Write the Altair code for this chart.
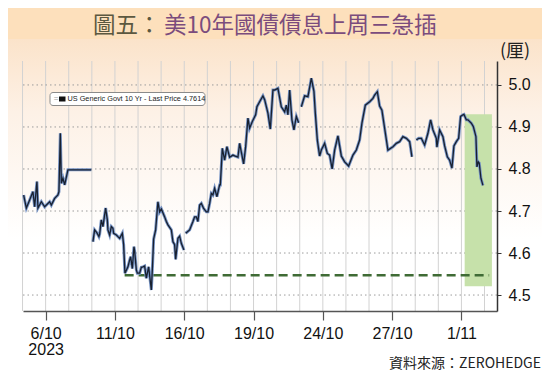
import altair as alt
import pandas as pd

# ---------------- data ----------------
# x = trading-day index (0 = 6/10/2023, 3 = 11/10, ..., 18 = 1/11/2023); y = yield (%)
seg_a_day = [-0.952, -0.835, -0.693, -0.550, -0.476, -0.377, -0.333, -0.186, -0.043, 0.173,
             0.247, 0.390, 0.532, 0.576, 0.636, 0.680, 0.749, 0.823, 0.965, 1.978]
seg_a_yld = [4.738, 4.707, 4.726, 4.746, 4.710, 4.770, 4.707, 4.722, 4.710, 4.722,
             4.714, 4.730, 4.738, 4.746, 4.885, 4.766, 4.778, 4.762, 4.798, 4.798]

seg_b_day = [2.048, 2.121, 2.221, 2.307, 2.338, 2.411, 2.481, 2.597, 2.671, 2.697,
             2.771, 2.844, 2.913, 2.944, 3.061, 3.130, 3.203, 3.320, 3.377, 3.433,
             3.563, 3.636, 3.680, 3.753, 3.823, 3.853, 3.926, 3.970, 4.069, 4.143,
             4.212, 4.286, 4.359, 4.459, 4.576, 4.619, 4.675, 4.762, 4.861, 4.935,
             5.009, 5.152, 5.225, 5.294, 5.442, 5.511, 5.584, 5.628, 5.727, 5.801,
             5.874, 5.987]
seg_b_yld = [4.627, 4.655, 4.648, 4.639, 4.645, 4.679, 4.663, 4.707, 4.679, 4.655,
             4.643, 4.663, 4.659, 4.647, 4.643, 4.639, 4.635, 4.647, 4.620, 4.552,
             4.567, 4.583, 4.591, 4.563, 4.615, 4.605, 4.560, 4.552, 4.552, 4.566,
             4.567, 4.569, 4.540, 4.567, 4.512, 4.560, 4.633, 4.655, 4.722, 4.698,
             4.705, 4.686, 4.675, 4.667, 4.655, 4.627, 4.620, 4.585, 4.635, 4.640,
             4.623, 4.607]

seg_c_day = [6.061, 6.234, 6.377, 6.450, 6.524, 6.593, 6.667, 6.740, 6.840, 6.957,
             7.026, 7.100, 7.173, 7.242, 7.316, 7.416, 7.532, 7.563, 7.649, 7.749,
             7.848, 7.965, 8.108, 8.182, 8.325, 8.398, 8.571, 8.658, 8.758, 8.831,
             8.948, 9.091, 9.147, 9.264, 9.407, 9.481, 9.623, 9.727, 9.840, 9.913,
             10.056, 10.203, 10.346, 10.420, 10.489, 10.563, 10.662, 10.749, 10.853, 10.952]
seg_c_yld = [4.647, 4.655, 4.675, 4.686, 4.686, 4.675, 4.714, 4.718, 4.706, 4.698,
             4.698, 4.718, 4.742, 4.738, 4.754, 4.734, 4.762, 4.762, 4.849, 4.821,
             4.853, 4.828, 4.833, 4.831, 4.828, 4.861, 4.812, 4.853, 4.921, 4.897,
             4.913, 4.929, 4.948, 4.960, 4.974, 4.965, 4.933, 4.895, 4.988, 4.988,
             4.992, 4.948, 4.936, 4.952, 4.929, 4.988, 4.917, 4.893, 4.925, 4.910]

seg_d_day = [11.069, 11.212, 11.355, 11.502, 11.615, 11.675, 11.762, 11.861, 11.935, 12.078,
             12.195, 12.294, 12.403, 12.511, 12.654, 12.801, 12.944, 13.117, 13.303, 13.450,
             13.593, 13.693, 13.840, 14.026, 14.169, 14.242, 14.359, 14.459, 14.558, 14.675,
             14.818, 15.035, 15.182, 15.325, 15.468, 15.615, 15.758, 15.857]
seg_d_yld = [4.948, 4.974, 4.972, 5.016, 4.985, 4.933, 4.869, 4.831, 4.845, 4.861,
             4.837, 4.833, 4.800, 4.845, 4.879, 4.831, 4.817, 4.807, 4.833, 4.845,
             4.869, 4.909, 4.952, 4.960, 4.968, 4.976, 4.984, 4.950, 4.940, 4.897,
             4.845, 4.853, 4.861, 4.865, 4.877, 4.873, 4.865, 4.829]

seg_e_day = [16.048, 16.147, 16.264, 16.407, 16.550, 16.667, 16.766, 16.913, 16.939, 17.056,
             17.199, 17.273, 17.390, 17.489, 17.589, 17.675, 17.780, 17.879, 17.965, 18.065,
             18.108, 18.212, 18.281, 18.429, 18.515, 18.628, 18.671, 18.729, 18.771, 18.844,
             18.931]
seg_e_yld = [4.869, 4.873, 4.873, 4.857, 4.885, 4.917, 4.893, 4.873, 4.852, 4.893,
             4.877, 4.855, 4.829, 4.821, 4.802, 4.855, 4.865, 4.873, 4.925, 4.929,
             4.930, 4.917, 4.917, 4.909, 4.901, 4.877, 4.805, 4.817, 4.814, 4.778,
             4.761]

tick_days = [0, 3, 6, 9, 12, 15, 18]
tick_labels = ["6/10", "11/10", "16/10", "19/10", "24/10", "27/10", "1/11"]
year_label = "2023"
grid_days = list(range(-1, 20))
grid_yields = [4.5, 4.6, 4.7, 4.8, 4.9, 5.0]

support_level = 4.547
support_from, support_to = 3.42, 19.2
box_day_from, box_day_to = 18.14, 19.32
box_yld_low, box_yld_high = 4.521, 4.930

last_price = 4.7614
title_a = "圖五："
title_b = "美10年國債債息上周三急插"
unit_text = "(厘)"
source_text = "資料來源：ZEROHEDGE"
legend_text = f"US Generic Govt 10 Yr - Last Price {last_price}"

# ---------------- build tables ----------------
rows = []
for name, dd, yy in [("a", seg_a_day, seg_a_yld), ("b", seg_b_day, seg_b_yld),
                     ("c", seg_c_day, seg_c_yld), ("d", seg_d_day, seg_d_yld),
                     ("e", seg_e_day, seg_e_yld)]:
    for d, y in zip(dd, yy):
        rows.append({"seg": name, "day": d, "yld": y})
df = pd.DataFrame(rows)
one = pd.DataFrame({"k": [0]})

W, H = 474, 250
xs = alt.Scale(domain=[-0.98, 19.54], nice=False, zero=False)
ys = alt.Scale(domain=[4.462, 5.057], nice=False, zero=False)

parts = []
for d, lab in zip(tick_days, tick_labels):
    txt = f"['{lab}','{year_label}']" if d == 0 else f"'{lab}'"
    parts.append(f"datum.value == {d} ? {txt} : ")
label_expr = "".join(parts) + "''"

x_axis = alt.Axis(values=tick_days, labelExpr=label_expr, grid=False, tickSize=9,
                  tickColor="#555555", tickWidth=1.2, domainColor="#555555", domainWidth=1.5,
                  labelFont="Liberation Sans", labelFontSize=16, labelColor="#111111",
                  labelPadding=5, labelLineHeight=16.5, title=None, zindex=1,
                  labelFlush=False, labelOverlap=False)
y_axis = alt.Axis(orient="right", values=grid_yields, format=".1f", grid=False, tickSize=4,
                  tickColor="#333333", domainColor="#333333", domainWidth=1.5,
                  labelFont="Liberation Sans", labelFontSize=16, labelColor="#111111",
                  labelPadding=7, title=None, zindex=1)

bg = alt.Chart(one).mark_rect(
    fill=alt.LinearGradient(gradient="linear", x1=0, x2=0, y1=0, y2=1,
                            stops=[alt.GradientStop(color="#fbe3ca", offset=0),
                                   alt.GradientStop(color="#fdf1e6", offset=0.22),
                                   alt.GradientStop(color="#ffffff", offset=0.6)])
).encode(x=alt.value(-16), x2=alt.value(W + 46), y=alt.value(-22), y2=alt.value(H + 62))

bar = alt.Chart(one).mark_rect(fill="#fde0bc").encode(
    x=alt.value(-16), x2=alt.value(W + 46), y=alt.value(-54), y2=alt.value(-22))

vgrid = alt.Chart(pd.DataFrame({"day": grid_days})).mark_rule(
    color="#d2d2d2", strokeWidth=1).encode(
    x=alt.X("day:Q", scale=xs, axis=x_axis), y=alt.value(0), y2=alt.value(H))

hgrid = alt.Chart(pd.DataFrame({"yld": grid_yields})).mark_rule(
    color="#9c9c9c", strokeWidth=1, strokeDash=[1.5, 3]).encode(
    y=alt.Y("yld:Q", scale=ys, axis=y_axis), x=alt.value(0), x2=alt.value(W))

green = alt.Chart(pd.DataFrame({"d1": [box_day_from], "d2": [box_day_to],
                                "y1": [box_yld_low], "y2": [box_yld_high]})).mark_rect(
    fill="#c6e1aa").encode(
    x=alt.X("d1:Q", scale=xs, axis=x_axis), x2="d2:Q",
    y=alt.Y("y1:Q", scale=ys, axis=y_axis), y2="y2:Q")

dash = alt.Chart(pd.DataFrame({"d1": [support_from], "d2": [support_to],
                               "lv": [support_level]})).mark_rule(
    color="#3f6b35", strokeWidth=2.4, strokeDash=[9, 5]).encode(
    x=alt.X("d1:Q", scale=xs, axis=x_axis), x2="d2:Q",
    y=alt.Y("lv:Q", scale=ys, axis=y_axis))

base = alt.Chart(df).encode(
    x=alt.X("day:Q", scale=xs, axis=x_axis),
    y=alt.Y("yld:Q", scale=ys, axis=y_axis),
    detail="seg:N", order="day:Q")
halo = base.mark_line(color="#7895c6", strokeWidth=3.0)
core = base.mark_line(color="#18202f", strokeWidth=1.3)

leg_box = alt.Chart(one).mark_rect(fill="white", stroke="#8a8a8a", strokeWidth=1,
                                   cornerRadius=3).encode(
    x=alt.value(27), x2=alt.value(182), y=alt.value(31.5), y2=alt.value(44.5))
leg_sq = alt.Chart(one).mark_rect(fill="#111111").encode(
    x=alt.value(36), x2=alt.value(42.5), y=alt.value(35.5), y2=alt.value(40.5))
leg_eq = alt.Chart(one).mark_text(text="=", fontSize=8, color="#9a9a9a",
                                  font="Liberation Sans", baseline="middle").encode(
    x=alt.value(33), y=alt.value(38))
leg_txt = alt.Chart(one).mark_text(text=legend_text, fontSize=7.3, color="#222222",
                                   font="Liberation Sans", align="left",
                                   baseline="middle").encode(
    x=alt.value(44.5), y=alt.value(38))

t1 = alt.Chart(one).mark_text(text=title_a, font="Noto Sans CJK TC", fontSize=22.5,
                              color="#5c5840", align="left", baseline="middle").encode(
    x=alt.value(70), y=alt.value(-35))
t2 = alt.Chart(one).mark_text(text=title_b, font="Noto Sans CJK TC", fontSize=22.5,
                              color="#7b4c7d", align="left", baseline="middle").encode(
    x=alt.value(141), y=alt.value(-35))
unit = alt.Chart(one).mark_text(text=unit_text, font="Noto Sans CJK TC", fontSize=18,
                                color="#222222", align="center", baseline="middle").encode(
    x=alt.value(492), y=alt.value(-9))
src = alt.Chart(one).mark_text(text=source_text, font="Noto Sans CJK TC", fontSize=14,
                               color="#222222", align="right", baseline="middle").encode(
    x=alt.value(518), y=alt.value(303))

chart = alt.layer(bg, bar, vgrid, hgrid, green, dash, halo, core,
                  leg_box, leg_sq, leg_eq, leg_txt, t1, t2, unit, src).properties(
    width=W, height=H,
    autosize=alt.AutoSizeParams(type="none"),
    padding={"left": 15, "top": 53, "right": 45, "bottom": 60},
    background="white",
).configure_view(stroke=None)

chart.save("out.html", embed_options={"renderer": "svg", "actions": False})
